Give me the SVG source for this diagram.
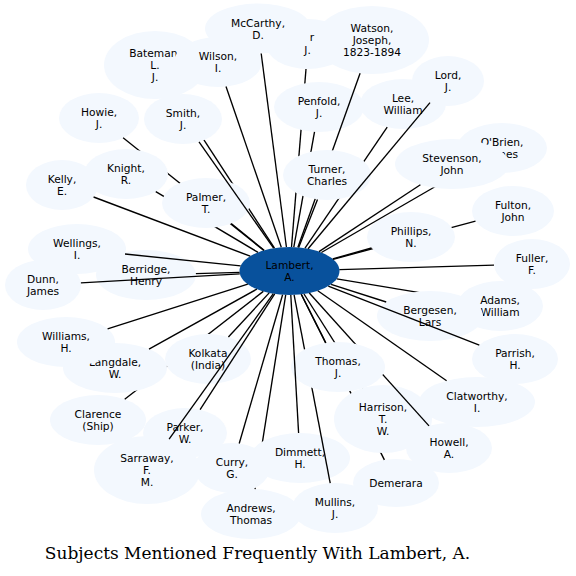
<svg xmlns="http://www.w3.org/2000/svg" width="576" height="576" viewBox="0 0 576 576">
<style>
.n ellipse{fill:#f3f8fe;stroke:none}
.c ellipse{fill:#08519c;stroke:none}
text{font-family:"DejaVu Sans","Noto Sans",sans-serif;font-size:10.67px;fill:#000;text-anchor:middle}
#edges line{stroke:#000;stroke-width:1.35}
.title{font-family:"DejaVu Serif","Liberation Serif",serif;font-size:17px}
</style>
<defs>
<mask id="m-mystery" maskUnits="userSpaceOnUse" x="0" y="0" width="576" height="576"><rect width="576" height="576" fill="#fff"/><ellipse cx="319" cy="107" rx="45" ry="25"/><ellipse cx="327" cy="175" rx="44" ry="25"/></mask>
<mask id="m-turner" maskUnits="userSpaceOnUse" x="0" y="0" width="576" height="576"><rect width="576" height="576" fill="#fff"/><ellipse cx="327" cy="175" rx="44" ry="25"/></mask>
<mask id="m-bateman" maskUnits="userSpaceOnUse" x="0" y="0" width="576" height="576"><rect width="576" height="576" fill="#fff"/><ellipse cx="183" cy="119" rx="39" ry="25"/><ellipse cx="206" cy="203" rx="44" ry="25"/></mask>
<mask id="m-howie" maskUnits="userSpaceOnUse" x="0" y="0" width="576" height="576"><rect width="576" height="576" fill="#fff"/><ellipse cx="126" cy="174" rx="42" ry="25"/><ellipse cx="206" cy="203" rx="44" ry="25"/></mask>
<mask id="m-palmer" maskUnits="userSpaceOnUse" x="0" y="0" width="576" height="576"><rect width="576" height="576" fill="#fff"/><ellipse cx="206" cy="203" rx="44" ry="25"/></mask>
<mask id="m-stevenson" maskUnits="userSpaceOnUse" x="0" y="0" width="576" height="576"><rect width="576" height="576" fill="#fff"/><ellipse cx="452" cy="164" rx="57" ry="25"/></mask>
<mask id="m-phillips" maskUnits="userSpaceOnUse" x="0" y="0" width="576" height="576"><rect width="576" height="576" fill="#fff"/><ellipse cx="411" cy="237" rx="44" ry="25"/></mask>
<mask id="m-bergesen" maskUnits="userSpaceOnUse" x="0" y="0" width="576" height="576"><rect width="576" height="576" fill="#fff"/><ellipse cx="430" cy="316" rx="53" ry="25"/></mask>
<mask id="m-clarence" maskUnits="userSpaceOnUse" x="0" y="0" width="576" height="576"><rect width="576" height="576" fill="#fff"/><ellipse cx="115" cy="368" rx="52" ry="25"/><ellipse cx="208" cy="359" rx="43" ry="25"/></mask>
<mask id="m-demerara" maskUnits="userSpaceOnUse" x="0" y="0" width="576" height="576"><rect width="576" height="576" fill="#fff"/><ellipse cx="383" cy="419" rx="49" ry="34"/><ellipse cx="338" cy="367" rx="47" ry="25"/></mask>
<mask id="m-thomas" maskUnits="userSpaceOnUse" x="0" y="0" width="576" height="576"><rect width="576" height="576" fill="#fff"/><ellipse cx="338" cy="367" rx="47" ry="25"/></mask>
<mask id="m-andrews" maskUnits="userSpaceOnUse" x="0" y="0" width="576" height="576"><rect width="576" height="576" fill="#fff"/><ellipse cx="232" cy="468" rx="38" ry="25"/><ellipse cx="300" cy="458" rx="50" ry="25"/></mask>
</defs>
<rect width="576" height="576" fill="#fff"/>
<g id="nodes">
<g id="n-lambert" class="c"><ellipse cx="289.5" cy="271" rx="50" ry="24"/><text x="289.5" y="269">Lambert,<tspan x="289.5" dy="12">A.</tspan></text></g>
<g id="n-mystery" class="n"><ellipse cx="308" cy="44" rx="42" ry="25"/><text x="312" y="41">r</text><text x="307.5" y="54">J.</text></g>
<g id="n-mccarthy" class="n"><ellipse cx="258" cy="28.5" rx="53" ry="25"/><text x="258" y="26.5">McCarthy,<tspan x="258" dy="12">D.</tspan></text></g>
<g id="n-bateman" class="n"><ellipse cx="155" cy="65" rx="51" ry="34"/><text x="155" y="57">Bateman,<tspan x="155" dy="12">L.</tspan><tspan x="155" dy="12">J.</tspan></text></g>
<g id="n-wilson" class="n"><ellipse cx="218" cy="62" rx="44" ry="25"/><text x="218" y="60">Wilson,<tspan x="218" dy="12">I.</tspan></text></g>
<g id="n-penfold" class="n"><ellipse cx="319" cy="107" rx="45" ry="25"/><text x="319" y="105">Penfold,<tspan x="319" dy="12">J.</tspan></text></g>
<g id="n-watson" class="n"><ellipse cx="372" cy="40" rx="57" ry="34"/><text x="372" y="32">Watson,<tspan x="372" dy="12">Joseph,</tspan><tspan x="372" dy="12">1823-1894</tspan></text></g>
<g id="n-lee" class="n"><ellipse cx="403" cy="104" rx="43" ry="25"/><text x="403" y="102">Lee,<tspan x="403" dy="12">William</tspan></text></g>
<g id="n-turner" class="n"><ellipse cx="327" cy="175" rx="44" ry="25"/><text x="327" y="173">Turner,<tspan x="327" dy="12">Charles</tspan></text></g>
<g id="n-lord" class="n"><ellipse cx="448" cy="81" rx="36" ry="25"/><text x="448" y="79">Lord,<tspan x="448" dy="12">J.</tspan></text></g>
<g id="n-howie" class="n"><ellipse cx="99" cy="118" rx="40" ry="25"/><text x="99" y="116">Howie,<tspan x="99" dy="12">J.</tspan></text></g>
<g id="n-knight" class="n"><ellipse cx="126" cy="174" rx="42" ry="25"/><text x="126" y="172">Knight,<tspan x="126" dy="12">R.</tspan></text></g>
<g id="n-palmer" class="n"><ellipse cx="206" cy="203" rx="44" ry="25"/><text x="206" y="201">Palmer,<tspan x="206" dy="12">T.</tspan></text></g>
<g id="n-smith" class="n"><ellipse cx="183" cy="119" rx="39" ry="25"/><text x="183" y="117">Smith,<tspan x="183" dy="12">J.</tspan></text></g>
<g id="n-obrien" class="n"><ellipse cx="502" cy="148" rx="45" ry="25"/><text x="502" y="146">O'Brien,<tspan x="502" dy="12">James</tspan></text></g>
<g id="n-stevenson" class="n"><ellipse cx="452" cy="164" rx="57" ry="25"/><text x="452" y="162">Stevenson,<tspan x="452" dy="12">John</tspan></text></g>
<g id="n-fulton" class="n"><ellipse cx="513" cy="211" rx="41" ry="25"/><text x="513" y="209">Fulton,<tspan x="513" dy="12">John</tspan></text></g>
<g id="n-phillips" class="n"><ellipse cx="411" cy="237" rx="44" ry="25"/><text x="411" y="235">Phillips,<tspan x="411" dy="12">N.</tspan></text></g>
<g id="n-kelly" class="n"><ellipse cx="62" cy="185" rx="36" ry="25"/><text x="62" y="183">Kelly,<tspan x="62" dy="12">E.</tspan></text></g>
<g id="n-berridge" class="n"><ellipse cx="146" cy="275" rx="50" ry="25"/><text x="146" y="273">Berridge,<tspan x="146" dy="12">Henry</tspan></text></g>
<g id="n-wellings" class="n"><ellipse cx="77" cy="249" rx="49" ry="25"/><text x="77" y="247">Wellings,<tspan x="77" dy="12">I.</tspan></text></g>
<g id="n-dunn" class="n"><ellipse cx="43" cy="285" rx="38" ry="25"/><text x="43" y="283">Dunn,<tspan x="43" dy="12">James</tspan></text></g>
<g id="n-fuller" class="n"><ellipse cx="532" cy="264" rx="38" ry="25"/><text x="532" y="262">Fuller,<tspan x="532" dy="12">F.</tspan></text></g>
<g id="n-adams" class="n"><ellipse cx="500" cy="306" rx="43" ry="25"/><text x="500" y="304">Adams,<tspan x="500" dy="12">William</tspan></text></g>
<g id="n-bergesen" class="n"><ellipse cx="430" cy="316" rx="53" ry="25"/><text x="430" y="314">Bergesen,<tspan x="430" dy="12">Lars</tspan></text></g>
<g id="n-parrish" class="n"><ellipse cx="515" cy="359" rx="43" ry="25"/><text x="515" y="357">Parrish,<tspan x="515" dy="12">H.</tspan></text></g>
<g id="n-clarence" class="n"><ellipse cx="98" cy="420" rx="48" ry="25"/><text x="98" y="418">Clarence<tspan x="98" dy="12">(Ship)</tspan></text></g>
<g id="n-langdale" class="n"><ellipse cx="115" cy="368" rx="52" ry="25"/><text x="115" y="366">Langdale,<tspan x="115" dy="12">W.</tspan></text></g>
<g id="n-williams" class="n"><ellipse cx="66" cy="342" rx="49" ry="25"/><text x="66" y="340">Williams,<tspan x="66" dy="12">H.</tspan></text></g>
<g id="n-kolkata" class="n"><ellipse cx="208" cy="359" rx="43" ry="25"/><text x="208" y="357">Kolkata<tspan x="208" dy="12">(India)</tspan></text></g>
<g id="n-parker" class="n"><ellipse cx="185" cy="433" rx="42" ry="25"/><text x="185" y="431">Parker,<tspan x="185" dy="12">W.</tspan></text></g>
<g id="n-sarraway" class="n"><ellipse cx="147" cy="470" rx="53" ry="34"/><text x="147" y="462">Sarraway,<tspan x="147" dy="12">F.</tspan><tspan x="147" dy="12">M.</tspan></text></g>
<g id="n-andrews" class="n"><ellipse cx="251" cy="514" rx="50" ry="25"/><text x="251" y="512">Andrews,<tspan x="251" dy="12">Thomas</tspan></text></g>
<g id="n-curry" class="n"><ellipse cx="232" cy="468" rx="38" ry="25"/><text x="232" y="466">Curry,<tspan x="232" dy="12">G.</tspan></text></g>
<g id="n-dimmett" class="n"><ellipse cx="300" cy="458" rx="50" ry="25"/><text x="300" y="456">Dimmett,<tspan x="300" dy="12">H.</tspan></text></g>
<g id="n-mullins" class="n"><ellipse cx="335" cy="508" rx="43" ry="25"/><text x="335" y="506">Mullins,<tspan x="335" dy="12">J.</tspan></text></g>
<g id="n-demerara" class="n"><ellipse cx="396" cy="483" rx="43" ry="24"/><text x="396" y="487">Demerara</text></g>
<g id="n-harrison" class="n"><ellipse cx="383" cy="419" rx="49" ry="34"/><text x="383" y="411">Harrison,<tspan x="383" dy="12">T.</tspan><tspan x="383" dy="12">W.</tspan></text></g>
<g id="n-howell" class="n"><ellipse cx="449" cy="448" rx="43" ry="25"/><text x="449" y="446">Howell,<tspan x="449" dy="12">A.</tspan></text></g>
<g id="n-clatworthy" class="n"><ellipse cx="477" cy="402" rx="58" ry="25"/><text x="477" y="400">Clatworthy,<tspan x="477" dy="12">I.</tspan></text></g>
<g id="n-thomas" class="n"><ellipse cx="338" cy="367" rx="47" ry="25"/><text x="338" y="365">Thomas,<tspan x="338" dy="12">J.</tspan></text></g>
</g>
<g id="edges">
<line x1="261.2" y1="53.5" x2="286.4" y2="247.0"/>
<line x1="175.4" y1="96.2" x2="274.5" y2="248.1" mask="url(#m-bateman)"/>
<line x1="226.0" y1="86.5" x2="281.3" y2="247.3"/>
<line x1="306.0" y1="69.0" x2="291.5" y2="247.0" mask="url(#m-mystery)"/>
<line x1="360.1" y1="73.2" x2="297.9" y2="247.3" mask="url(#m-turner)"/>
<line x1="430.0" y1="102.6" x2="308.1" y2="248.7"/>
<line x1="314.5" y1="131.9" x2="293.8" y2="247.1" mask="url(#m-turner)"/>
<line x1="387.2" y1="127.2" x2="305.0" y2="248.2" mask="url(#m-turner)"/>
<line x1="123.1" y1="137.7" x2="263.8" y2="250.4" mask="url(#m-howie)"/>
<line x1="199.0" y1="141.8" x2="273.6" y2="248.2"/>
<line x1="470.8" y1="166.0" x2="321.4" y2="252.5" mask="url(#m-stevenson)"/>
<line x1="420.4" y1="184.8" x2="319.0" y2="251.6"/>
<line x1="155.8" y1="191.7" x2="258.0" y2="252.3" mask="url(#m-palmer)"/>
<line x1="317.5" y1="199.4" x2="298.7" y2="247.4"/>
<line x1="93.6" y1="197.0" x2="250.2" y2="256.2"/>
<line x1="231.2" y1="223.5" x2="264.1" y2="250.3"/>
<line x1="475.5" y1="221.1" x2="333.1" y2="259.3" mask="url(#m-phillips)"/>
<line x1="371.5" y1="248.0" x2="332.7" y2="258.9"/>
<line x1="125.0" y1="254.0" x2="240.6" y2="265.9"/>
<line x1="494.0" y1="265.1" x2="339.4" y2="269.6"/>
<line x1="195.9" y1="273.6" x2="239.6" y2="272.4"/>
<line x1="80.9" y1="282.9" x2="239.8" y2="273.8"/>
<line x1="458.7" y1="299.1" x2="336.8" y2="278.9" mask="url(#m-bergesen)"/>
<line x1="386.2" y1="302.0" x2="331.1" y2="284.3"/>
<line x1="107.6" y1="328.8" x2="247.8" y2="284.2"/>
<line x1="228.4" y1="337.0" x2="269.2" y2="292.9"/>
<line x1="479.3" y1="345.1" x2="328.3" y2="286.1"/>
<line x1="149.0" y1="349.1" x2="256.8" y2="289.2"/>
<line x1="325.8" y1="342.9" x2="301.3" y2="294.3"/>
<line x1="446.6" y1="380.7" x2="317.8" y2="290.8"/>
<line x1="363.3" y1="387.9" x2="304.0" y2="294.0" mask="url(#m-thomas)"/>
<line x1="124.7" y1="399.2" x2="263.3" y2="291.4" mask="url(#m-clarence)"/>
<line x1="200.1" y1="409.7" x2="274.7" y2="293.9"/>
<line x1="429.0" y1="425.9" x2="309.3" y2="293.0" mask="url(#m-thomas)"/>
<line x1="298.6" y1="433.0" x2="290.8" y2="295.0"/>
<line x1="169.1" y1="439.1" x2="273.3" y2="293.7"/>
<line x1="239.2" y1="443.5" x2="282.6" y2="294.8"/>
<line x1="384.4" y1="459.9" x2="301.2" y2="294.3" mask="url(#m-demerara)"/>
<line x1="330.2" y1="483.2" x2="294.1" y2="294.9" mask="url(#m-thomas)"/>
<line x1="255.0" y1="489.1" x2="285.7" y2="294.9" mask="url(#m-andrews)"/>
</g>
<text class="title" x="257.5" y="559">Subjects Mentioned Frequently With Lambert, A.</text>
</svg>
